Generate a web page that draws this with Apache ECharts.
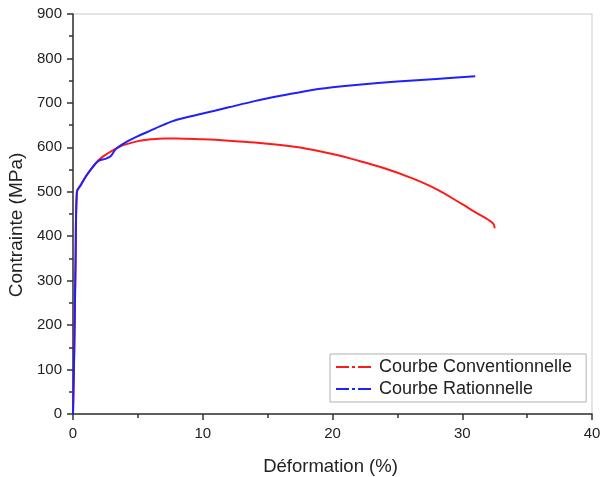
<!DOCTYPE html>
<html>
<head>
<meta charset="utf-8">
<script src="https://cdn.jsdelivr.net/npm/echarts@6/dist/echarts.min.js"></script>
<style>
  html, body { margin: 0; padding: 0; background: #fff; }
  #chart { width: 600px; height: 477px; }
</style>
</head>
<body>
<div id="chart"></div>
<script>
// courbe conventionnelle (rouge)
var convX = [0, 0.1, 0.2, 0.3, 0.6, 1.0, 1.5, 2.0, 2.5, 3, 3.5, 4, 5, 6, 7, 8, 10, 12, 14, 16, 18, 20, 22, 24, 26, 28, 30, 31, 32, 32.4, 32.5]
var convY = [0, 150, 350, 500, 515, 535, 555, 572, 583, 592, 600, 606, 614, 618, 620, 620, 618, 615, 611, 605, 597, 585, 570, 553, 532, 506, 472, 454, 437, 428, 418]

// courbe rationnelle (bleue)
var ratX = [0, 0.1, 0.2, 0.3, 0.6, 1.0, 1.5, 2.0, 2.5, 2.9, 3.3, 4, 5, 6, 7, 8, 10, 12, 14, 16, 18, 20, 22, 25, 28, 31]
var ratY = [0, 150, 350, 500, 515, 535, 555, 570, 574, 580, 596, 610, 625, 638, 651, 662, 676, 690, 704, 716, 727, 735, 741, 748, 754, 760]

var seriesNames = ['Courbe Conventionnelle', 'Courbe Rationnelle']

function pairs (xs, ys) {
  return xs.map(function (x, i) { return [x, ys[i]] })
}

// icone tiret-point-tiret pour la légende
var dashDot = 'path://M0,0h13v2h-13z M16,0h3v2h-3z M22,0h13v2h-13z'

var font = 'Liberation Sans, Arial, sans-serif'

var option = {
  animation: false,
  grid: {
    left: 73,
    right: 8,
    top: 14,
    bottom: 63,
    outerBoundsMode: 'none',
    containLabel: false,
    show: true,
    borderColor: '#c8c8c8',
    borderWidth: 1
  },
  legend: {
    data: seriesNames,
    orient: 'vertical',
    left: 330,
    top: 354,
    itemWidth: 35,
    itemHeight: 2,
    itemGap: 4,
    padding: [4, 14, 4, 6],
    borderColor: '#b0b0b0',
    borderWidth: 1,
    backgroundColor: '#fff',
    textStyle: { fontFamily: font, fontSize: 18, color: '#222', padding: [0, 0, 0, 3] },
    icon: dashDot
  },
  xAxis: {
    type: 'value',
    min: 0,
    max: 40,
    interval: 10,
    name: 'Déformation (%)',
    nameLocation: 'middle',
    nameGap: 43,
    nameTextStyle: { fontFamily: font, fontSize: 18.5, color: '#222', padding: [0, 4, 0, 0] },
    axisLine: { lineStyle: { color: '#333', width: 1.5 } },
    axisTick: { show: true, inside: false, length: 6, lineStyle: { color: '#333', width: 1.5 } },
    minorTick: { show: true, splitNumber: 2, length: 4, lineStyle: { color: '#333', width: 1.5 } },
    axisLabel: { fontFamily: font, fontSize: 15, color: '#222', margin: 12 },
    splitLine: { show: false }
  },
  yAxis: {
    type: 'value',
    min: 0,
    max: 900,
    interval: 100,
    name: 'Contrainte (MPa)',
    nameLocation: 'middle',
    nameGap: 45,
    nameTextStyle: { fontFamily: font, fontSize: 19, color: '#222', padding: [0, 22, 0, 0] },
    axisLine: { show: true, lineStyle: { color: '#333', width: 1.5 } },
    axisTick: { show: true, inside: false, length: 6, lineStyle: { color: '#333', width: 1.5 } },
    minorTick: { show: true, splitNumber: 2, length: 4, lineStyle: { color: '#333', width: 1.5 } },
    axisLabel: { fontFamily: font, fontSize: 15, color: '#222', margin: 11 },
    splitLine: { show: false }
  },
  series: [
    {
      name: seriesNames[0],
      type: 'line',
      showSymbol: false,
      smooth: 0.4,
      color: '#ff1a1a',
      lineStyle: { width: 2, color: '#ff1a1a' },
      data: pairs(convX, convY)
    },
    {
      name: seriesNames[1],
      type: 'line',
      showSymbol: false,
      smooth: 0.3,
      color: '#2020ff',
      lineStyle: { width: 2, color: '#2020ff' },
      data: pairs(ratX, ratY)
    }
  ]
}

echarts.init(document.getElementById('chart')).setOption(option)
</script>
</body>
</html>
